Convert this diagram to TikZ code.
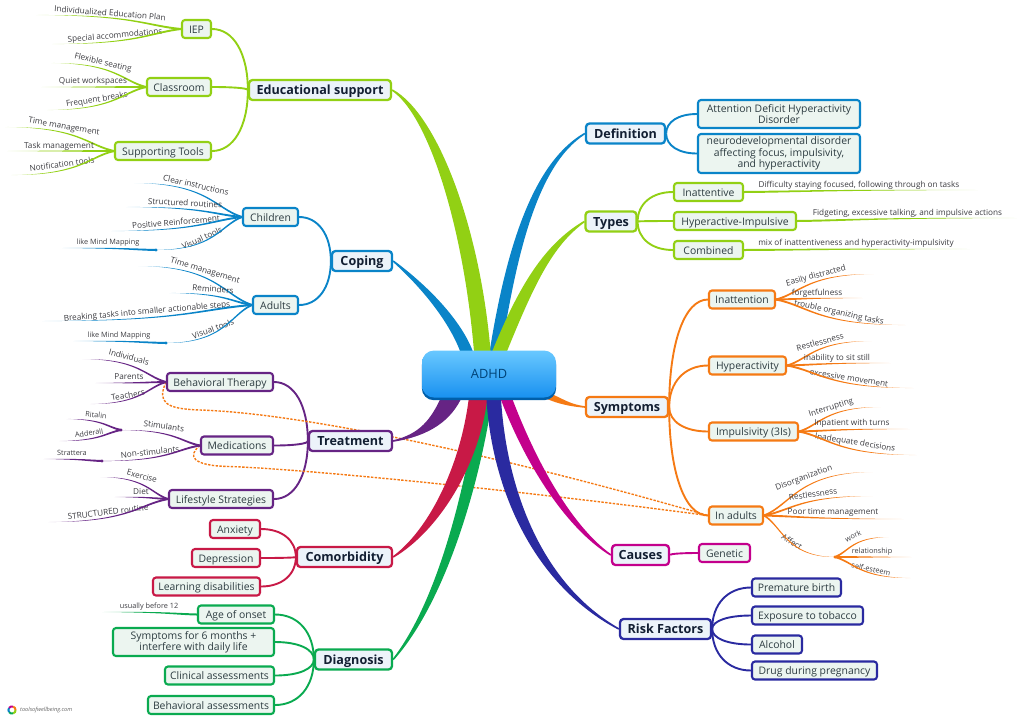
\documentclass[tikz,border=0pt]{standalone}
\usepackage{fontspec}
\setmainfont{Open Sans}
\usetikzlibrary{calc,backgrounds}
\definecolor{limeb}{RGB}{146,208,20}
\definecolor{blueb}{RGB}{10,132,200}
\definecolor{orangeb}{RGB}{245,122,20}
\definecolor{purpleb}{RGB}{102,36,132}
\definecolor{crimsonb}{RGB}{200,25,70}
\definecolor{greenb}{RGB}{10,170,80}
\definecolor{magentab}{RGB}{195,0,140}
\definecolor{navyb}{RGB}{42,42,160}
\definecolor{mainbg}{RGB}{236,243,250}
\definecolor{subbg}{RGB}{236,245,240}
\definecolor{inkmain}{RGB}{18,30,50}
\definecolor{inksub}{RGB}{45,60,65}
\definecolor{inkleaf}{RGB}{60,60,65}
\definecolor{adhdtop}{RGB}{105,200,255}
\definecolor{adhdlow}{RGB}{25,145,240}
\definecolor{adhdedge}{RGB}{0,95,170}
\colorlet{leafcol}{limeb}
\pgfdeclarehorizontalshading[leafcol]{leaffadel}{100bp}{color(0bp)=(leafcol!12); color(25bp)=(leafcol!12); color(38bp)=(leafcol); color(100bp)=(leafcol)}
\pgfdeclarehorizontalshading[leafcol]{leaffader}{100bp}{color(0bp)=(leafcol); color(62bp)=(leafcol); color(75bp)=(leafcol!12); color(100bp)=(leafcol!12)}
\pgfdeclarehorizontalshading[leafcol]{leafsolid}{100bp}{color(0bp)=(leafcol); color(100bp)=(leafcol)}
\tikzset{
  mainnode/.style={draw=#1, fill=mainbg, line width=2.3pt, rounded corners=3.5pt, text=inkmain,
    font=\fontsize{12.6}{14}\selectfont\bfseries, minimum height=20pt, inner sep=0pt, text height=10pt, text depth=1pt},
  subnode/.style={draw=#1, fill=subbg, line width=2.1pt, rounded corners=3pt, text=inksub, align=center,
    font=\fontsize{10.4}{11.3}\selectfont, minimum height=18pt, inner sep=0pt},
  oneline/.style={text height=8.5pt, text depth=.5pt},
  leaftext/.style={font=\fontsize{8.2}{9}\selectfont, text=inkleaf, inner sep=0pt},
  deeptext/.style={font=\fontsize{7.3}{9}\selectfont, text=inkleaf, inner sep=0pt},
  forkdot/.style={fill=#1},
  linkwire/.style={draw=#1, line width=1.9pt},
  dashlink/.style={draw=orangeb, line width=1.4pt, dash pattern=on 2.4pt off 1.4pt}
}
% thick tapered limbs out of the centre
\newcommand{\bigbranch}[6]{
  \coordinate (bl) at ($(adhd)+(#5)$);
  \coordinate (br) at ($(adhd)+(#6)$);
  \filldraw[#1, line width=1.6pt] (#2) .. controls (#3) and (#4) .. (bl) -- (br)
    .. controls ($(#4)+(br)-(bl)$) and ($(#3)+.5*(br)-.5*(bl)$) .. (#2) -- cycle;
}
% leaf = rotated text + thin tapered curve to a free end
\newcommand{\leafset}[4]{
  \foreach \nm/\src/\tx/\ty/\rot/\endx/\endy/\txt in {#4} {
    \node[#3, rotate=\rot] (\nm) at (\tx,\ty) {\txt};
    \coordinate (\nm-e) at (\endx,\endy);
    \colorlet{leafcol}{#1}
    \shade[shading=#2] ($(\src)+(0,-1)$)
      .. controls ($(\src)!.25!(\nm-e)+(0,-1)$) and ($(\src |- \nm-e)!.32!(\nm-e)+(0,-.5)$) .. (\nm-e)
      .. controls ($(\src |- \nm-e)!.32!(\nm-e)+(0,.5)$) and ($(\src)!.25!(\nm-e)+(0,1)$) .. ($(\src)+(0,1)$) -- cycle;
  }
}
\begin{document}
\begin{tikzpicture}[x=1pt,y=-1pt]
\useasboundingbox (0,0) rectangle (1024,724);
\node[rounded corners=12pt, top color=adhdtop, bottom color=adhdlow, minimum width=134pt, minimum height=47pt,
  text=adhdedge!70!black, font=\fontsize{12.8}{14}\selectfont] (adhd) at (489,374) {ADHD};

% main topics
\foreach \nm/\x/\y/\w/\col/\txt in {
  edu/320/90/142/limeb/Educational support, coping/362/261/60/blueb/Coping,
  treat/350.5/441/83/purpleb/Treatment, comorb/344.5/557/95/crimsonb/Comorbidity,
  diag/353.5/659.5/77/greenb/Diagnosis, defn/625.5/133.5/79/blueb/Definition,
  types/611/221.5/51/limeb/Types, sympt/627/407/82/orangeb/Symptoms,
  causes/640.5/555/57/magentab/Causes, risk/665.5/629/91/navyb/Risk Factors} {
  \node[mainnode=\col, minimum width=\w pt] (\nm) at (\x,\y) {\txt};
}
% subtopics
\foreach \nm/\x/\y/\w/\col/\txt in {
  iep/196.5/29/29/limeb/IEP, classroom/179/87/64/limeb/Classroom,
  tools/163/151/96/limeb/Supporting Tools, children/270.5/217/55/blueb/Children,
  adults/275.5/305/45/blueb/Adults, behav/220/382/106/purpleb/Behavioral Therapy,
  meds/237/445.5/72/purpleb/Medications, life/221/499/104/purpleb/Lifestyle Strategies,
  anx/235/529/50/crimsonb/Anxiety, dep/226/558/68/crimsonb/Depression,
  learn/206.5/586.5/107/crimsonb/Learning disabilities, age/236/614.5/76/greenb/Age of onset,
  clin/219.5/675.5/109/greenb/Clinical assessments, behass/211/705/126/greenb/Behavioral assessments,
  inatt/708.5/192/69/limeb/Inattentive, hyper/735/221/122/limeb/Hyperactive-Impulsive,
  combi/708.5/250/69/limeb/Combined, inatn/742/299.5/66/orangeb/Inattention,
  hypra/747.5/365.5/77/orangeb/Hyperactivity, impul/753.5/431.5/89/orangeb/Impulsivity (3Is),
  inadu/736/515.5/54/orangeb/In adults, genet/724.5/553/51/magentab/Genetic,
  prem/796.5/587.5/89/navyb/Premature birth, expo/807.5/615.5/111/navyb/Exposure to tobacco,
  alco/777/644.5/50/navyb/Alcohol, drug/814.5/670.5/125/navyb/Drug during pregnancy} {
  \node[subnode=\col, oneline, minimum width=\w pt] (\nm) at (\x,\y) {\txt};
}
\foreach \nm/\x/\y/\w/\h/\col/\txt in {
  months/193.5/642/161/28/greenb/{Symptoms for 6 months +\\interfere with daily life},
  attn/779/114/162/28/blueb/{Attention Deficit Hyperactivity\\Disorder},
  neuro/779/153.5/162/39/blueb/{neurodevelopmental disorder\\affecting focus, impulsivity,\\and hyperactivity}} {
  \node[subnode=\col, minimum width=\w pt, minimum height=\h pt] (\nm) at (\x,\y) {\txt};
}

% leaves, left side
\leafset{limeb}{leaffadel}{leaftext}{
  lindiv/iep.west/110/13/-4.5/36/15/Individualized Education Plan,
  lspec/iep.west/115/36/5/52/44/Special accommodations,
  lflex/classroom.west/103/63/-13/51/63/Flexible seating,
  lquiet/classroom.west/93/81/0/41/87/Quiet workspaces,
  lfreq/classroom.west/97/100/9/47/110/Frequent breaks,
  ltime/tools.west/64/127/-10/5/127/Time management,
  ltask/tools.west/59/146/0/7/151/Task management,
  lnote/tools.west/62/164/8/11/175/Notification tools}
\leafset{blueb}{leaffadel}{leaftext}{
  lclear/children.west/196/185/-13/134/183/Clear instructions,
  lstruc/children.west/185/203/-3/126/207/Structured routines,
  lpos/children.west/176/222/5/111/231/Positive Reinforcement,
  ltimb/adults.west/205/271/-17/138/266/Time management,
  lremi/adults.west/213/289/-5/169/293/Reminders,
  lbreak/adults.west/147/312/5/42/321/Breaking tasks into smaller actionable steps}
\leafset{blueb}{leafsolid}{leaftext}{
  lvisa/children.west/202/238/25/156/250/Visual tools,
  lvisb/adults.west/213/329/20/166/343/Visual tools}
\leafset{blueb}{leaffadel}{deeptext}{
  lmapa/lvisa-e/108/243/0/62/248/like Mind Mapping,
  lmapb/lvisb-e/119/336/0/73/341/like Mind Mapping}
\leafset{purpleb}{leaffadel}{leaftext}{
  lind/behav.west/129/357/-15/82/359/Individuals,
  lpar/behav.west/129/377/0/95/383/Parents,
  lteach/behav.west/128/395/10/90/404/Teachers,
  lexer/life.west/142/476/-15/100/477/Exercise,
  ldiet/life.west/141/492/0/114/497/Diet,
  lrout/life.west/108/512/7/48/522/STRUCTURED routine}
\leafset{purpleb}{leafsolid}{leaftext}{
  lstim/meds.west/164/426/-8/121/430/Stimulants,
  lnons/meds.west/150/452/6/102/461/Non-stimulants}
\leafset{purpleb}{leaffadel}{deeptext}{
  lrita/lstim-e/96/415/-5/66/419/Ritalin,
  ladde/lstim-e/89/433/8/59/441/Adderall,
  lstra/lnons-e/72/453/0/43/459/Strattera}
\leafset{greenb}{leaffadel}{deeptext}{
  lage/age.west/149/607/0/102/612/usually before 12}
% leaves, right side
\leafset{limeb}{leaffader}{leaftext}{
  ldiff/inatt.east/859/185/0/978/190/{Difficulty staying focused, following through on tasks},
  lfidg/hyper.east/907.5/213/0/1017/218/{Fidgeting, excessive talking, and impulsive actions},
  lmix/combi.east/856/243/0/970/249/mix of inattentiveness and hyperactivity-impulsivity}
\leafset{orangeb}{leaffader}{leaftext}{
  leasy/inatn.east/816/276/15/874/274/Easily distracted,
  lforg/inatn.east/817/293/0/863/298/forgetfulness,
  ltrou/inatn.east/839/313/-12/906/325/trouble organizing tasks,
  lrest/hypra.east/820/342/15/872/341/Restlessness,
  linab/hypra.east/837/358/0/891/363/inability to sit still,
  lexce/hypra.east/849/378/-9/914/388/excessive movement,
  lintr/impul.east/831/408/17/881/407/Interrupting,
  linpa/impul.east/852/423/0/910/429/Inpatient with turns,
  linad/impul.east/855/443/-9/917/455/Inadequate decisions,
  ldiso/inadu.east/804/478/20/873/472/Disorganization,
  lresa/inadu.east/813/494/8/873/496/Restlessness,
  lpoor/inadu.east/833/512/0/904/519/Poor time management}
\leafset{orangeb}{leafsolid}{leaftext}{
  laffe/inadu.east/792/542/-32/835/557/Affect}
\leafset{orangeb}{leaffader}{deeptext}{
  lwork/laffe-e/853/536/25/889/537/work,
  lrela/laffe-e/872/552/0/912/557/relationship,
  lself/laffe-e/871/569/-12/911/578/self-esteem}
\foreach \nm/\col in {lvisa-e/blueb, lvisb-e/blueb, lstim-e/purpleb, lnons-e/purpleb, laffe-e/orangeb} {
  \fill[forkdot=\col] (\nm) circle (1.7);
}

% logo bottom left
\coordinate (logoc) at (12,710);
\foreach \a/\col in {0/limeb, 72/greenb, 144/blueb, 216/magentab, 288/orangeb} {
  \draw[\col, line width=2pt] ($(logoc)+(\a:3.6)$) arc[start angle=\a, end angle=\a+72, radius=3.6];
}
\node[anchor=west, inner sep=0pt, text=black!60, font=\fontsize{5.6}{7}\itshape] (logotxt) at (20,710) {toolsofwellbeing.com};

\begin{pgfonlayer}{background}
% wires child to parent
\foreach \a/\b/\col in {iep/edu/limeb, classroom/edu/limeb, tools/edu/limeb, children/coping/blueb, adults/coping/blueb,
  behav/treat/purpleb, meds/treat/purpleb, life/treat/purpleb, anx/comorb/crimsonb, dep/comorb/crimsonb,
  learn/comorb/crimsonb, age/diag/greenb, months/diag/greenb, clin/diag/greenb, behass/diag/greenb} {
  \draw[linkwire=\col] (\a.east) .. controls ($(\a.east)!.6!(\a.east -| \b.west)$) and ($(\b.west)!.6!(\b.west |- \a.east)$) .. (\b.west);
}
\foreach \a/\b/\col in {defn/attn/blueb, defn/neuro/blueb, types/inatt/limeb, types/hyper/limeb, types/combi/limeb,
  sympt/inatn/orangeb, sympt/hypra/orangeb, sympt/impul/orangeb, sympt/inadu/orangeb, causes/genet/magentab,
  risk/prem/navyb, risk/expo/navyb, risk/alco/navyb, risk/drug/navyb} {
  \draw[linkwire=\col] (\a.east) .. controls ($(\a.east)!.6!(\a.east |- \b.west)$) and ($(\b.west)!.6!(\a.east |- \b.west)$) .. (\b.west);
}
% dashed relations
\draw[dashlink] (behav.west) .. controls (157,402) and (165,409) .. (200,410) .. controls (300,413) and (500,455) .. (inadu.west);
\draw[dashlink] (meds.west) .. controls (188,455) and (190,466) .. (230,466.5) .. controls (300,469) and (500,488) .. (inadu.west);
% limbs
\bigbranch{blueb}{coping.east}{420,285}{450,320}{-27,-20}{-16,-20}
\bigbranch{blueb}{defn.west}{530,165}{505,260}{1,-20}{11,-20}
\bigbranch{limeb}{edu.east}{430,115}{465,230}{-14,-20}{1,-20}
\bigbranch{limeb}{types.west}{545,245}{520,285}{3,-20}{16,-20}
\bigbranch{purpleb}{treat.east}{420,435}{432,420}{-46,21}{-27,21}
\bigbranch{orangeb}{sympt.west}{565,405}{555,402}{51,21}{63,21}
\bigbranch{greenb}{diag.east}{440,600}{468,480}{-9,21}{3,21}
\bigbranch{crimsonb}{comorb.east}{430,530}{462,465}{-19,21}{-2,21}
\bigbranch{magentab}{causes.west}{570,530}{528,470}{11,21}{21,21}
\bigbranch{navyb}{risk.west}{535,585}{492,490}{-2,21}{11,21}
\fill[adhdedge, rounded corners=12pt] ($(adhd.north west)+(0,3)$) rectangle ($(adhd.south east)+(0,2.5)$);
\end{pgfonlayer}
\end{tikzpicture}
\end{document}
